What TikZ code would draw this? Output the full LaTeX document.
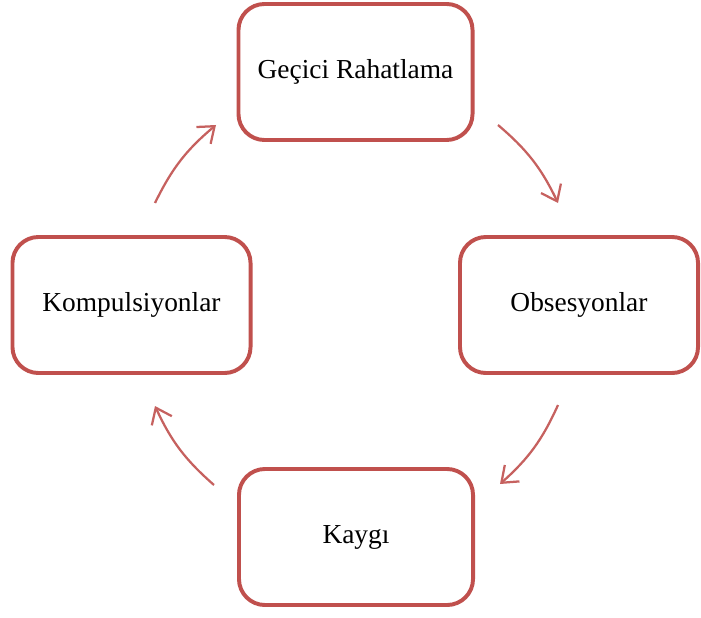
\documentclass[tikz,border=0pt]{standalone}
\usepackage{fontspec}
\setmainfont{Liberation Serif}
\usetikzlibrary{arrows.meta}
\definecolor{cyclered}{HTML}{C0504D}

\begin{document}
\begin{tikzpicture}[
  x = 0.025cm, y = -0.025cm,
  stage/.style={draw=cyclered, line width=2.8pt, fill=white, rectangle, rounded corners=0.65cm, minimum width=5.85cm, minimum height=3.4cm, font=\fontsize{19.5}{23}\selectfont},
  widestage/.style={stage, minimum width=5.95cm},
  arrow/.style={-{Straight Barb[length=0.36cm, width=0.55cm]}, line width=1.6pt, color=cyclered!90}
]
    \useasboundingbox (0, 0) rectangle (701, 617);

    % Stages
    \node (relief) at (355.5, 72) [stage] {Geçici Rahatlama};
    \node (obsession) at (579, 305) [widestage] {Obsesyonlar};
    \node (anxiety) at (356, 537) [stage] {Kaygı};
    \node (compulsion) at (131.5, 305) [widestage] {Kompulsiyonlar};

    % Arrow ends
    \coordinate (a1) at (498, 125);
    \coordinate (b1) at (558, 203);
    \coordinate (a2) at (558, 405);
    \coordinate (b2) at (500, 484);
    \coordinate (a3) at (214, 485);
    \coordinate (b3) at (155, 406);
    \coordinate (a4) at (155, 203);
    \coordinate (b4) at (216, 125);

    % Arrows
    \draw[arrow] (a1) to[bend left=12] (b1);
    \draw[arrow] (a2) to[bend left=12] (b2);
    \draw[arrow] (a3) to[bend left=12] (b3);
    \draw[arrow] (a4) to[bend left=12] (b4);
\end{tikzpicture}
\end{document}
